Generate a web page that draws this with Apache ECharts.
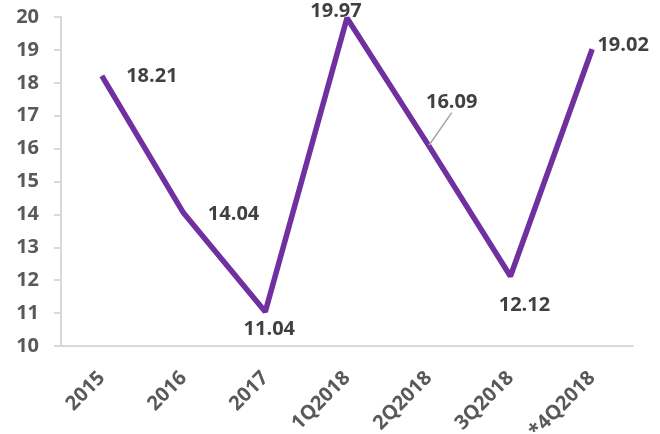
<!DOCTYPE html>
<html>
<head>
<meta charset="utf-8">
<script src="https://cdn.jsdelivr.net/npm/echarts@6/dist/echarts.min.js"></script>
<style>
  html, body { margin: 0; padding: 0; background: #fff; }
  #chart { width: 660px; height: 434px; }
</style>
</head>
<body>
<div id="chart"></div>
<script>
const categories = ['2015', '2016', '2017', '1Q2018', '2Q2018', '3Q2018', '*4Q2018']
const values = [18.21, 14.04, 11.04, 19.97, 16.09, 12.12, 19.02]

// where each value label sits relative to its point
const labelOffsets = [[50, 0], [50, 1], [4, 18], [-11, -7], [23, -43], [14, 29], [31, -4]]
const calloutIndex = 4 // 2Q2018 label gets a leader line

const chart = echarts.init(document.getElementById('chart'))

chart.setOption({
  animation: false,
  grid: { left: 61, right: 27, top: 17, bottom: 88, outerBoundsMode: 'none' },
  xAxis: {
    type: 'category',
    data: categories,
    axisLine: { lineStyle: { color: '#d9d9d9', width: 2 } },
    axisTick: { show: false },
    axisLabel: {
      rotate: 45,
      color: '#595959',
      fontWeight: 'bold',
      fontSize: 20,
      fontFamily: 'Open Sans',
      margin: 29
    }
  },
  yAxis: {
    type: 'value',
    min: 10,
    max: 20,
    interval: 1,
    splitLine: { show: false },
    axisLine: { show: true, lineStyle: { color: '#d9d9d9', width: 2 } },
    axisTick: { show: true, length: 7, lineStyle: { color: '#d9d9d9', width: 2 } },
    axisLabel: {
      color: '#595959',
      fontWeight: 'bold',
      fontSize: 20,
      fontFamily: 'Open Sans',
      margin: 22
    }
  },
  series: [{
    type: 'line',
    data: values.map((v, i) => ({
      value: v,
      labelLine: { show: i === calloutIndex }
    })),
    symbol: 'circle',
    symbolSize: 1,
    showSymbol: true,
    itemStyle: { color: '#7030A0' },
    lineStyle: { color: '#7030A0', width: 5.5 },
    label: {
      show: true,
      position: 'inside',
      color: '#404040',
      fontWeight: 'bold',
      fontSize: 20,
      fontFamily: 'Open Sans',
      formatter: p => p.value.toFixed(2)
    },
    labelLine: {
      lineStyle: { color: '#a6a6a6', width: 1.5 }
    },
    labelLayout: params => ({
      dx: labelOffsets[params.dataIndex][0],
      dy: labelOffsets[params.dataIndex][1]
    })
  }]
})
</script>
</body>
</html>
